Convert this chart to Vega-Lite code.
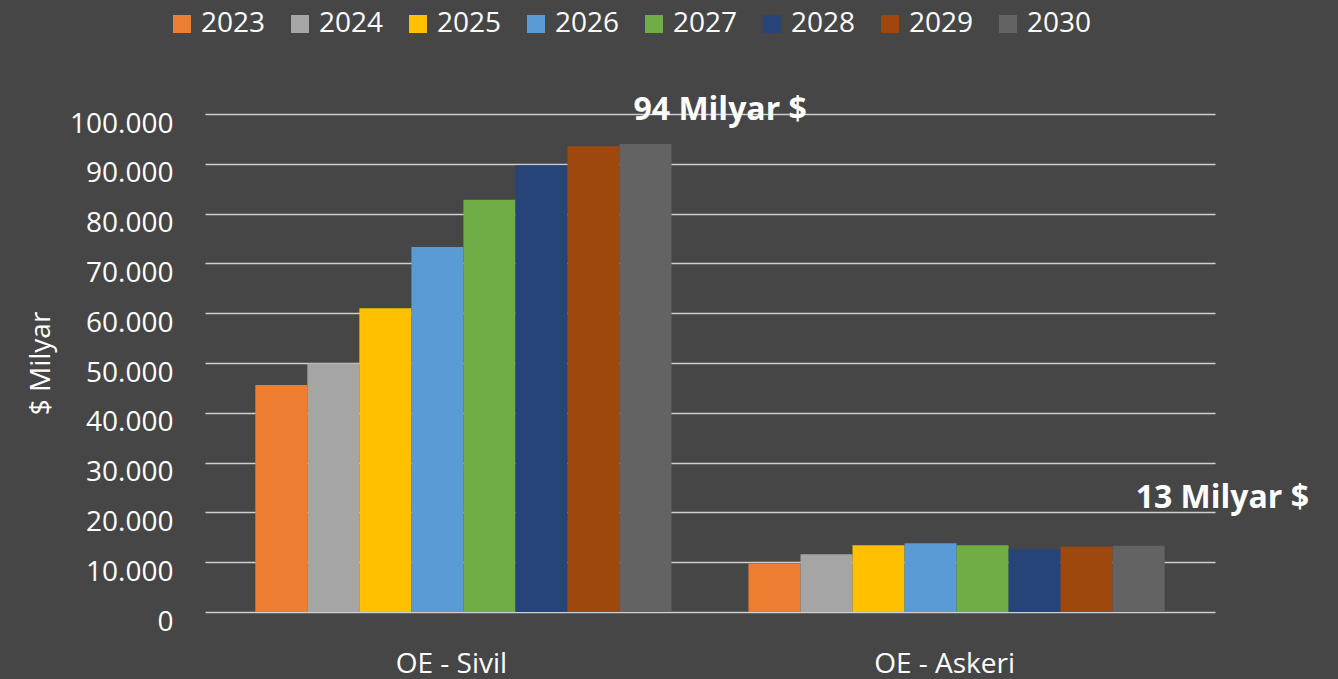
{
  "$schema": "https://vega.github.io/schema/vega-lite/v6.json",
  "autosize": "none",
  "width": 1010,
  "height": 498,
  "padding": {"left": 205, "top": 114, "right": 123, "bottom": 67},
  "background": "#464646",
  "config": {
    "view": {"stroke": null},
    "font": "Open Sans",
    "locale": {"number": {"decimal": ",", "thousands": ".", "grouping": [3], "currency": ["", " $"]}}
  },
  "data": {
    "values": [
      {"group": "OE - Sivil", "year": "2023", "value": 45600},
      {"group": "OE - Sivil", "year": "2024", "value": 49900},
      {"group": "OE - Sivil", "year": "2025", "value": 61000},
      {"group": "OE - Sivil", "year": "2026", "value": 73300},
      {"group": "OE - Sivil", "year": "2027", "value": 82800},
      {"group": "OE - Sivil", "year": "2028", "value": 89700},
      {"group": "OE - Sivil", "year": "2029", "value": 93500},
      {"group": "OE - Sivil", "year": "2030", "value": 94000, "label": "94 Milyar $"},
      {"group": "OE - Askeri", "year": "2023", "value": 9750},
      {"group": "OE - Askeri", "year": "2024", "value": 11600},
      {"group": "OE - Askeri", "year": "2025", "value": 13400},
      {"group": "OE - Askeri", "year": "2026", "value": 13800},
      {"group": "OE - Askeri", "year": "2027", "value": 13400},
      {"group": "OE - Askeri", "year": "2028", "value": 12600},
      {"group": "OE - Askeri", "year": "2029", "value": 13100},
      {"group": "OE - Askeri", "year": "2030", "value": 13300, "label": "13 Milyar $"}
    ]
  },
  "encoding": {
    "x": {
      "field": "group", "type": "nominal", "sort": ["OE - Sivil", "OE - Askeri"],
      "scale": {"paddingInner": 0.156, "paddingOuter": 0.102},
      "axis": {"title": null, "domain": false, "ticks": false, "labelAngle": 0, "labelFontSize": 28, "labelColor": "#ffffff", "labelPadding": 38, "labelOffset": -12}
    },
    "xOffset": {"field": "year", "type": "nominal", "scale": {"paddingInner": 0, "paddingOuter": 0}},
    "y": {
      "field": "value", "type": "quantitative",
      "scale": {"domain": [0, 100000], "nice": false},
      "axis": {"title": "$ Milyar", "titleFontSize": 28, "titleFontWeight": "normal", "titleColor": "#ffffff", "titlePadding": 14,
               "tickCount": 10, "format": ",d", "domain": false, "ticks": false, "labelFontSize": 28, "labelColor": "#ffffff", "labelPadding": 32, "labelOffset": 10,
               "grid": true, "gridColor": "#cfcfcf", "gridWidth": 1.5}
    }
  },
  "layer": [
    {
      "mark": {"type": "bar"},
      "encoding": {
        "color": {
          "field": "year", "type": "nominal",
          "scale": {"domain": ["2023", "2024", "2025", "2026", "2027", "2028", "2029", "2030"],
                    "range": ["#ED7D31", "#A5A5A5", "#FFC000", "#5B9BD5", "#70AD47", "#264478", "#9E480E", "#636363"]},
          "legend": {"orient": "none", "legendX": -37, "legendY": -104, "direction": "horizontal", "columns": 8, "title": null,
                     "labelFontSize": 28, "labelColor": "#ffffff", "symbolType": "square", "symbolSize": 324, "symbolStrokeWidth": 0,
                     "columnPadding": 20, "labelOffset": 5}
        }
      }
    },
    {
      "transform": [{"filter": "datum.label == '94 Milyar $'"}],
      "mark": {"type": "text", "align": "left", "baseline": "middle", "dx": -12, "dy": -34, "fontSize": 32, "fontWeight": "bold", "color": "#ffffff"},
      "encoding": {"text": {"field": "label"}}
    },
    {
      "transform": [{"filter": "datum.label == '13 Milyar $'"}],
      "mark": {"type": "text", "align": "left", "baseline": "middle", "dx": -3, "dy": -48, "fontSize": 32, "fontWeight": "bold", "color": "#ffffff"},
      "encoding": {"text": {"field": "label"}}
    }
  ]
}
